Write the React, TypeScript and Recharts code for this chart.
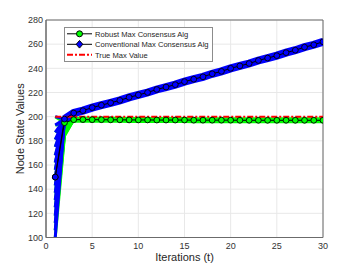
import { LineChart, Line, XAxis, YAxis, CartesianGrid, ReferenceArea, Legend } from "recharts";

const FONT = "'Liberation Sans', Arial, sans-serif";
const BLUE = "#0000ff";
const GREEN = "#00ff00";
const RED = "#ff0000";

const iterations = [
  1, 2, 3, 4, 5, 6, 7, 8, 9, 10, 11, 12, 13, 14, 15,
  16, 17, 18, 19, 20, 21, 22, 23, 24, 25, 26, 27, 28, 29, 30,
];
const conventional = [
  150, 198, 203, 205, 207.5, 209.5, 211.5, 213.5, 216, 218, 220, 222.5, 224.5, 226.5, 229,
  231, 233, 235.5, 237.5, 240, 242, 244, 246.5, 248.5, 250.5, 253, 255, 257.5, 259.5, 262,
];
const robust = [
  150, 195, 197.5, 197.6, 197.5, 197.5, 197.4, 197.4, 197.3, 197.3, 197.3, 197.2, 197.2, 197.2, 197.2,
  197.1, 197.1, 197.1, 197.1, 197.1, 197, 197, 197, 197, 197, 197, 197, 197, 197, 197,
];
const trueMaxT = [1, 30];
const trueMaxV = [200, 200];

// initial node states at t = 1 (spread of all node trajectories)
const nodeStarts = [100, 106, 112, 118, 125, 131, 137, 143, 150, 156, 162, 168, 175, 181, 187, 193, 200];
const robustSecond = [184, 185, 186, 187, 188, 189, 190, 190, 191, 191, 192, 192, 193, 193, 194, 194, 195];

const xTicks = [0, 5, 10, 15, 20, 25, 30];
const yTicks = [100, 120, 140, 160, 180, 200, 220, 240, 260, 280];

const legendItems = [
  { label: "Robust Max Consensus Alg", kind: "circle" },
  { label: "Conventional Max Consensus Alg", kind: "diamond" },
  { label: "True Max Value", kind: "dash" },
];

type Pt = { t: number; v: number };
const toPoints = (ts: number[], vs: number[]): Pt[] => ts.map((t, i) => ({ t, v: vs[i] }));

const convPts = toPoints(iterations, conventional);
const robustPts = toPoints(iterations, robust);
const convBand = convPts.slice(1);
const robustBand = robustPts.slice(1);
const truePts = toPoints(trueMaxT, trueMaxV);
const convFans = nodeStarts.map((s) => [
  { t: 1, v: s },
  { t: 2, v: conventional[1] },
]);
const robustFans = nodeStarts.map((s, i) => [
  { t: 1, v: s },
  { t: 2, v: robustSecond[i] },
  { t: 3, v: robust[2] },
]);

function CircleDot(fill: string) {
  return (props: any) => {
    const { cx, cy, index } = props;
    if (cx == null || cy == null) return <g key={index} />;
    return <circle key={index} cx={cx} cy={cy} r={2.9} fill={fill} stroke="#000" strokeWidth={0.9} />;
  };
}

function LegendBox() {
  return (
    <svg width={149} height={35} style={{ display: "block" }}>
      <rect x={0.5} y={0.5} width={148} height={34} fill="#fff" stroke="#8c8c8c" strokeWidth={1} />
      {legendItems.map((it, i) => {
        const y = 6.8 + i * 10.5;
        return (
          <g key={it.label}>
            {it.kind === "dash" ? (
              <line x1={3} y1={y} x2={28} y2={y} stroke={RED} strokeWidth={2} strokeDasharray="6 2 2 2" />
            ) : (
              <line x1={3} y1={y} x2={28} y2={y} stroke="#000" strokeWidth={1} />
            )}
            {it.kind === "circle" && <circle cx={15.5} cy={y} r={3} fill={GREEN} stroke="#000" />}
            {it.kind === "diamond" && (
              <polygon
                points={`${15.5},${y - 3.8} ${18.8},${y} ${15.5},${y + 3.8} ${12.2},${y}`}
                fill={BLUE}
                stroke="#000"
              />
            )}
            <text x={31} y={y + 2.8} fontSize={7.6} fontFamily={FONT} fill="#262626">
              {it.label}
            </text>
          </g>
        );
      })}
    </svg>
  );
}

export default function App() {
  return (
    <div style={{ position: "absolute", left: 0, top: 0, width: 357, height: 268, background: "#fff" }}>
      <LineChart width={357} height={268} margin={{ top: 20, right: 34, bottom: 0, left: 0 }}>
        <CartesianGrid stroke="#e8e8e8" strokeWidth={1} />
        <XAxis
          dataKey="t"
          type="number"
          domain={[0, 30]}
          ticks={xTicks}
          allowDataOverflow
          height={30.5}
          axisLine={{ stroke: "#6b6b6b" }}
          tickLine={false}
          tickSize={5}
          tickMargin={0}
          tick={{ fontSize: 9, fill: "#333", fontFamily: FONT }}
          label={{
            content: (p: any) => (
              <text
                x={p.viewBox.x + p.viewBox.width / 2}
                y={261}
                textAnchor="middle"
                fontSize={11}
                fontFamily={FONT}
                fill="#262626"
              >
                Iterations (t)
              </text>
            ),
          }}
        />
        <YAxis
          dataKey="v"
          type="number"
          domain={[100, 280]}
          ticks={yTicks}
          allowDataOverflow
          width={46}
          axisLine={{ stroke: "#6b6b6b" }}
          tickLine={false}
          tickSize={3}
          tickMargin={0}
          tick={{ fontSize: 9, fill: "#333", fontFamily: FONT }}
          label={{
            content: (p: any) => (
              <text
                x={24}
                y={p.viewBox.y + p.viewBox.height / 2}
                textAnchor="middle"
                fontSize={11}
                fontFamily={FONT}
                fill="#262626"
                transform={`rotate(-90, 24, ${p.viewBox.y + p.viewBox.height / 2})`}
              >
                Node State Values
              </text>
            ),
          }}
        />
        <ReferenceArea x1={0} x2={30} y1={100} y2={280} fill="none" stroke="#6b6b6b" strokeWidth={1} />

        {robustFans.map((d, i) => (
          <Line key={"rf" + i} data={d} dataKey="v" stroke={GREEN} strokeWidth={3} dot={false} legendType="none" isAnimationActive={false} />
        ))}
        <Line data={robustBand} dataKey="v" stroke={GREEN} strokeWidth={6} dot={false} legendType="none" isAnimationActive={false} />

        {convFans.map((d, i) => (
          <Line key={"cf" + i} data={d} dataKey="v" stroke={BLUE} strokeWidth={3} dot={false} legendType="none" isAnimationActive={false} />
        ))}
        <Line data={convBand} dataKey="v" stroke={BLUE} strokeWidth={8} dot={false} legendType="none" isAnimationActive={false} />

        <Line data={truePts} dataKey="v" stroke={RED} strokeWidth={2} strokeDasharray="6 2 2 2" dot={false} legendType="none" isAnimationActive={false} />

        <Line data={robustPts} dataKey="v" stroke="#000" strokeWidth={1} dot={CircleDot(GREEN)} legendType="none" isAnimationActive={false} />
        <Line data={convPts} dataKey="v" stroke="#000" strokeWidth={1} dot={CircleDot(BLUE)} legendType="none" isAnimationActive={false} />

        <Legend
          layout="horizontal"
          verticalAlign="middle"
          align="center"
          content={() => <LegendBox />}
          wrapperStyle={{ left: 64, top: 27, width: 149, height: 35, margin: 0, right: "auto", bottom: "auto" }}
        />
      </LineChart>
    </div>
  );
}
